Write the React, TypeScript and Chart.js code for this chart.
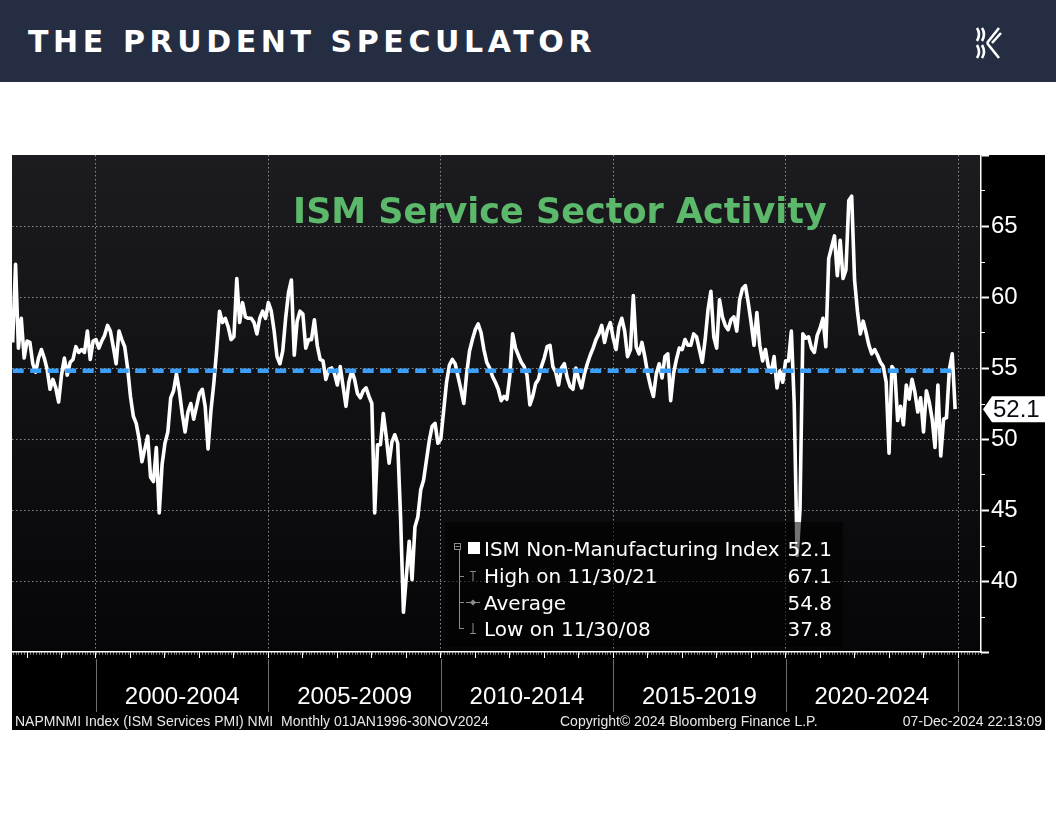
import React, { useEffect, useRef } from 'react';
import { Chart, registerables } from 'chart.js';

Chart.register(...registerables);

// ---- data (monthly ISM services index, first value = July 1997) ----
const FIRST_YEAR = 1997;
const FIRST_MONTH = 7;

const ism1997to1999 = [
  56.8, 62.3, 56.4, 58.5, 55.7, 56.9,
  56.8, 55.3, 54.7, 55.7, 56.3, 55.7, 54.9, 53.5, 54.2, 53.6, 52.6, 54.5,
  55.7, 54.5, 55.4, 55.6, 56.5, 56.1, 56.3, 56.1, 57.6, 55.6, 56.9, 57.0,
];
const ism2000to2004 = [
  56.4, 56.9, 57.3, 58.0, 57.6, 56.5, 55.3, 57.6, 57.0, 56.5, 55.0, 53.0,
  51.6, 51.1, 50.0, 48.4, 49.3, 50.2, 47.3, 47.0, 49.4, 44.8, 48.2, 49.7,
  50.5, 52.9, 53.4, 54.6, 53.4, 51.8, 50.5, 51.9, 52.5, 51.4, 52.3, 53.2,
  53.5, 52.3, 49.3, 52.0, 53.9, 56.3, 59.0, 58.2, 58.5, 57.9, 57.0, 57.2,
  61.3, 58.2, 59.6, 58.6, 58.5, 58.5, 58.2, 57.4, 58.5, 59.0, 58.5, 59.6,
];
const ism2005to2009 = [
  59.0, 57.6, 55.8, 55.3, 56.2, 58.5, 60.3, 61.2, 55.9, 58.3, 59.0, 58.8,
  56.4, 57.0, 57.0, 58.4, 56.6, 55.6, 55.5, 54.2, 54.9, 55.0, 54.6, 53.8,
  55.1, 53.7, 52.3, 54.0, 54.8, 54.2, 53.2, 52.9, 53.4, 53.6, 53.0, 52.5,
  44.8, 49.6, 49.6, 51.8, 50.2, 48.3, 49.8, 50.3, 49.7, 44.5, 37.8, 40.3,
  42.8, 40.1, 43.8, 44.5, 46.4, 47.1, 48.5, 49.9, 50.9, 51.1, 49.7, 50.0,
];
const ism2010to2014 = [
  52.0, 54.0, 55.2, 55.6, 55.3, 54.4, 53.5, 52.5, 54.6, 56.2, 57.0, 57.7,
  58.1, 57.5, 56.3, 55.4, 55.0, 54.4, 54.0, 53.5, 52.7, 53.0, 52.8, 54.4,
  57.4, 56.4, 55.9, 55.4, 55.1, 54.5, 52.4, 53.0, 53.9, 54.2, 55.1, 55.7,
  56.5, 56.6, 55.1, 54.7, 53.8, 55.0, 55.3, 54.3, 53.7, 53.5, 55.0, 54.2,
  53.6, 54.6, 55.3, 55.9, 56.4, 57.0, 57.4, 58.0, 56.8, 57.7, 58.2, 57.1,
];
const ism2015to2019 = [
  56.3, 57.9, 58.5, 57.6, 55.8, 56.3, 60.1, 56.5, 56.0, 56.8, 55.8, 54.6,
  53.7, 53.0, 54.6, 55.3, 54.3, 55.8, 56.0, 52.7, 54.6, 55.6, 56.4, 56.3,
  57.0, 56.6, 56.6, 57.4, 57.2, 56.3, 55.4, 57.0, 59.1, 60.4, 57.2, 56.4,
  59.8, 58.6, 58.0, 57.7, 58.4, 58.6, 57.6, 59.8, 60.6, 60.8, 59.6, 58.2,
  56.6, 58.9, 56.6, 55.5, 56.3, 55.1, 54.7, 55.8, 53.6, 54.8, 54.0, 55.5,
];
const ism2020to2024 = [
  55.5, 57.6, 52.5, 41.8, 45.0, 57.4, 57.1, 57.2, 56.4, 56.1, 57.3, 57.8,
  58.5, 56.5, 62.7, 63.5, 64.3, 61.5, 64.0, 61.3, 61.9, 66.8, 67.1, 61.2,
  59.0, 57.4, 58.3, 57.5, 56.6, 56.0, 56.3, 55.9, 55.4, 55.1, 54.0, 49.0,
  55.1, 54.8, 51.3, 52.3, 51.0, 53.8, 52.8, 54.2, 53.3, 51.9, 52.9, 50.5,
  53.4, 52.6, 51.4, 49.4, 53.8, 48.8, 51.4, 51.5, 54.9, 56.0, 52.1,
];

const periodLabels = ['2000-2004', '2005-2009', '2010-2014', '2015-2019', '2020-2024'];
const periodStarts = [2000, 2005, 2010, 2015, 2020];
const periodBoundaries = [2000, 2005, 2010, 2015, 2020, 2025];
const yLabelValues = [40, 45, 50, 55, 60, 65];

const LAST_VALUE = 52.1;
const HIGH_VALUE = 67.1;
const AVERAGE_VALUE = 54.8;
const LOW_VALUE = 37.8;
const SERIES_NAME = 'ISM Non-Manufacturing Index';
const HIGH_LABEL = 'High on 11/30/21';
const LOW_LABEL = 'Low on 11/30/08';

const X_MIN = 1997.564;
const X_MAX = 2025.667;
const Y_MIN = 35;
const Y_MAX = 70;

const monthlyValues = [
  ...ism1997to1999, ...ism2000to2004, ...ism2005to2009,
  ...ism2010to2014, ...ism2015to2019, ...ism2020to2024,
];
const seriesPoints = monthlyValues.map((v, i) => {
  const m = FIRST_MONTH - 1 + i;
  const year = FIRST_YEAR + Math.floor(m / 12);
  const month = (m % 12) + 1;
  return { x: year + month / 12, y: v };
});

const AXIS_FONT = '"Liberation Sans", Arial, sans-serif';
const GRID_COLOR = 'rgba(170,170,170,0.8)';

const decorPlugin = {
  id: 'decor',
  beforeDraw(chart: any) {
    const { ctx, chartArea: a } = chart;
    const g = ctx.createLinearGradient(0, a.top, 0, a.bottom);
    g.addColorStop(0, '#1c1c20');
    g.addColorStop(1, '#060608');
    ctx.save();
    ctx.fillStyle = g;
    ctx.fillRect(a.left, a.top, a.right - a.left, a.bottom - a.top);
    ctx.restore();
  },
  afterDraw(chart: any) {
    const { ctx, chartArea: a } = chart;
    const xs = chart.scales.x;
    const ys = chart.scales.y;
    ctx.save();
    ctx.strokeStyle = 'rgba(255,255,255,0.45)';
    ctx.lineWidth = 1;
    for (let yr = 1997; yr <= 2025; yr++) {
      for (let m = 0; m < 12; m++) {
        const t = yr + m / 12;
        if (t < X_MIN || t > X_MAX) continue;
        const px = Math.round(xs.getPixelForValue(t)) + 0.5;
        ctx.beginPath();
        ctx.moveTo(px, a.bottom);
        ctx.lineTo(px, a.bottom + 3);
        ctx.stroke();
      }
    }
    ctx.strokeStyle = '#6e6e6e';
    periodBoundaries.forEach((b) => {
      const px = Math.round(xs.getPixelForValue(b)) + 0.5;
      ctx.beginPath();
      ctx.moveTo(px, a.bottom + 7);
      ctx.lineTo(px, a.bottom + 60);
      ctx.stroke();
    });
    ctx.strokeStyle = '#ffffff';
    for (let v = Y_MIN + 2.5; v < Y_MAX; v += 5) {
      const py = Math.round(ys.getPixelForValue(v)) + 0.5;
      ctx.beginPath();
      ctx.moveTo(a.right, py);
      ctx.lineTo(a.right + 4, py);
      ctx.stroke();
    }
    const ty = ys.getPixelForValue(LAST_VALUE);
    const x0 = a.right + 2;
    ctx.fillStyle = '#ffffff';
    ctx.beginPath();
    ctx.moveTo(x0, ty);
    ctx.lineTo(x0 + 9, ty - 13);
    ctx.lineTo(x0 + 62, ty - 13);
    ctx.lineTo(x0 + 62, ty + 13);
    ctx.lineTo(x0 + 9, ty + 13);
    ctx.closePath();
    ctx.fill();
    ctx.fillStyle = '#0a0a14';
    ctx.font = `24px ${AXIS_FONT}`;
    ctx.textBaseline = 'middle';
    ctx.textAlign = 'left';
    ctx.fillText(LAST_VALUE.toFixed(1), x0 + 10, ty + 1);
    ctx.restore();
  },
};

function Logo() {
  return (
    <svg width="32" height="36" viewBox="0 0 32 36" style={{ position: 'absolute', left: 972, top: 25 }}>
      <g fill="none" stroke="#fff" strokeWidth="2.6" strokeLinecap="butt">
        <path d="M5 3 Q9 9 5 16" />
        <path d="M10 3 Q14 9 10 16" />
        <path d="M5 20 Q9 27 5 33" />
        <path d="M10 20 Q14 27 10 33" />
        <path d="M15 18 L27 3" />
        <path d="M15 18 L27 33" />
        <path d="M20 18 L29 8" />
      </g>
    </svg>
  );
}

function LegendIcons() {
  return (
    <svg width="40" height="110" viewBox="0 0 40 110" style={{ position: 'absolute', left: 450, top: 538 }}>
      <g stroke="#8c8c8c" strokeWidth="1" fill="none">
        <rect x="4.5" y="5.5" width="6" height="6" />
        <line x1="5.5" y1="8.5" x2="9.5" y2="8.5" />
        <line x1="9.5" y1="12" x2="9.5" y2="91" />
        <line x1="9.5" y1="38.5" x2="14" y2="38.5" />
        <line x1="9.5" y1="64.5" x2="14" y2="64.5" />
        <line x1="9.5" y1="90.5" x2="14" y2="90.5" />
        <line x1="20" y1="33.5" x2="26" y2="33.5" />
        <line x1="23" y1="33.5" x2="23" y2="43" />
        <line x1="16" y1="64.5" x2="30" y2="64.5" />
        <line x1="23" y1="85" x2="23" y2="95" />
        <line x1="20" y1="95.5" x2="26" y2="95.5" />
      </g>
      <rect x="18" y="4" width="12" height="12" fill="#ffffff" />
      <path d="M23 61.5 L26 64.5 L23 67.5 L20 64.5 Z" fill="#8c8c8c" />
    </svg>
  );
}

export default function App() {
  const canvasRef = useRef<HTMLCanvasElement>(null);

  useEffect(() => {
    const xTickValues: number[] = [];
    for (let y = Math.ceil(X_MIN); y <= Math.floor(X_MAX); y++) xTickValues.push(y);
    periodStarts.forEach((s) => xTickValues.push(s + 2.5));
    xTickValues.sort((a, b) => a - b);
    const yTickValues: number[] = [];
    for (let v = Y_MIN; v <= Y_MAX; v += 5) yTickValues.push(v);

    const chart = new Chart(canvasRef.current as HTMLCanvasElement, {
      type: 'line',
      data: {
        datasets: [
          {
            label: 'Average',
            data: [
              { x: seriesPoints[0].x, y: AVERAGE_VALUE },
              { x: seriesPoints[seriesPoints.length - 1].x, y: AVERAGE_VALUE },
            ],
            borderColor: '#3b9ffa',
            borderWidth: 4.5,
            borderDash: [11, 6.5],
            pointRadius: 0,
            fill: false,
          },
          {
            label: SERIES_NAME,
            data: seriesPoints,
            borderColor: '#ffffff',
            borderWidth: 3.6,
            borderJoinStyle: 'round',
            pointRadius: 0,
            tension: 0,
            fill: false,
          },
        ],
      },
      options: {
        animation: false,
        responsive: false,
        layout: { padding: 0 },
        plugins: {
          legend: { display: false },
          tooltip: { enabled: false },
          title: { display: false },
        },
        scales: {
          x: {
            type: 'linear',
            min: X_MIN,
            max: X_MAX,
            afterBuildTicks: (s: any) => {
              s.ticks = xTickValues.map((v) => ({ value: v }));
            },
            afterFit: (s: any) => {
              s.height = 63;
              s.paddingLeft = 0;
              s.paddingRight = 0;
            },
            ticks: {
              autoSkip: false,
              maxRotation: 0,
              minRotation: 0,
              padding: 25,
              color: '#ffffff',
              font: { family: AXIS_FONT, size: 24 },
              callback: (v: any) => {
                const idx = periodStarts.indexOf(Number(v) - 2.5);
                return idx >= 0 ? periodLabels[idx] : '';
              },
            },
            grid: {
              color: (c: any) => (c.tick && c.tick.value % 5 === 0 ? GRID_COLOR : 'transparent'),
              lineWidth: 1,
              tickLength: 6,
              tickWidth: 1,
              tickColor: (c: any) => (c.tick && Number.isInteger(c.tick.value) ? '#ffffff' : 'transparent'),
            },
            border: { display: true, color: '#ffffff', width: 1.5, dash: [1.5, 2.5] },
          },
          y: {
            position: 'right',
            min: Y_MIN,
            max: Y_MAX,
            afterBuildTicks: (s: any) => {
              s.ticks = yTickValues.map((v) => ({ value: v }));
            },
            afterFit: (s: any) => {
              s.width = 64;
              s.paddingTop = 0;
              s.paddingBottom = 0;
            },
            ticks: {
              autoSkip: false,
              padding: 2,
              color: '#ffffff',
              font: { family: AXIS_FONT, size: 24 },
              callback: (v: any) => (yLabelValues.includes(Number(v)) ? String(v) : ''),
            },
            grid: {
              color: (c: any) => (c.tick && yLabelValues.includes(c.tick.value) ? GRID_COLOR : 'transparent'),
              lineWidth: 1,
              tickLength: 8,
              tickWidth: 2,
              tickColor: '#ffffff',
            },
            border: { display: true, color: '#ffffff', width: 1.5, dash: [1.5, 2.5] },
          },
        },
      },
      plugins: [decorPlugin],
    } as any);
    return () => chart.destroy();
  }, []);

  const legendRows = [
    { label: SERIES_NAME, value: LAST_VALUE, top: 539 },
    { label: HIGH_LABEL, value: HIGH_VALUE, top: 566 },
    { label: 'Average', value: AVERAGE_VALUE, top: 592.5 },
    { label: LOW_LABEL, value: LOW_VALUE, top: 618.5 },
  ];

  return (
    <div style={{ position: 'absolute', left: 0, top: 0, width: 1056, height: 816, background: '#ffffff', overflow: 'hidden' }}>
      <div style={{ position: 'absolute', left: 0, top: 0, width: 1056, height: 82, background: '#252d42' }}>
        <div
          style={{
            position: 'absolute', left: 28, top: 27, fontFamily: '"DejaVu Sans", sans-serif', fontWeight: 700,
            fontSize: 30, lineHeight: '30px', letterSpacing: 4.6, color: '#ffffff', whiteSpace: 'nowrap',
          }}
        >
          THE PRUDENT SPECULATOR
        </div>
        <Logo />
      </div>

      <div style={{ position: 'absolute', left: 12, top: 155, width: 1033, height: 575, background: '#000000' }}>
        <canvas ref={canvasRef} width={1033} height={560} style={{ display: 'block', width: 1033, height: 560 }} />
        <div
          style={{
            position: 'absolute', left: 548, top: 39, transform: 'translateX(-50%)', fontFamily: '"DejaVu Sans", sans-serif',
            fontWeight: 700, fontSize: 35, lineHeight: '35px', color: '#5cb96b', whiteSpace: 'nowrap',
          }}
        >
          ISM Service Sector Activity
        </div>
        <div style={{ position: 'absolute', top: 559, left: 3, fontFamily: AXIS_FONT, fontSize: 14, lineHeight: '14px', color: '#e8e8e8', whiteSpace: 'pre' }}>
          {'NAPMNMI Index (ISM Services PMI) NMI  Monthly 01JAN1996-30NOV2024'}
        </div>
        <div style={{ position: 'absolute', top: 559, left: 548, fontFamily: AXIS_FONT, fontSize: 14, lineHeight: '14px', color: '#e8e8e8', whiteSpace: 'pre' }}>
          {'Copyright\u00A9 2024 Bloomberg Finance L.P.'}
        </div>
        <div style={{ position: 'absolute', top: 559, right: 3, fontFamily: AXIS_FONT, fontSize: 14, lineHeight: '14px', color: '#e8e8e8', whiteSpace: 'pre' }}>
          {'07-Dec-2024 22:13:09'}
        </div>
      </div>

      <div style={{ position: 'absolute', left: 445, top: 522, width: 398, height: 125, background: 'rgba(0,0,0,0.55)' }} />
      <LegendIcons />
      {legendRows.map((r) => (
        <React.Fragment key={r.label}>
          <div style={{ position: 'absolute', left: 484, top: r.top, fontFamily: '"DejaVu Sans", sans-serif', fontSize: 20, lineHeight: '20px', color: '#ffffff', whiteSpace: 'nowrap' }}>
            {r.label}
          </div>
          <div style={{ position: 'absolute', right: 1056 - 832, top: r.top, fontFamily: '"DejaVu Sans", sans-serif', fontSize: 20, lineHeight: '20px', color: '#ffffff', whiteSpace: 'nowrap' }}>
            {r.value.toFixed(1)}
          </div>
        </React.Fragment>
      ))}
    </div>
  );
}
